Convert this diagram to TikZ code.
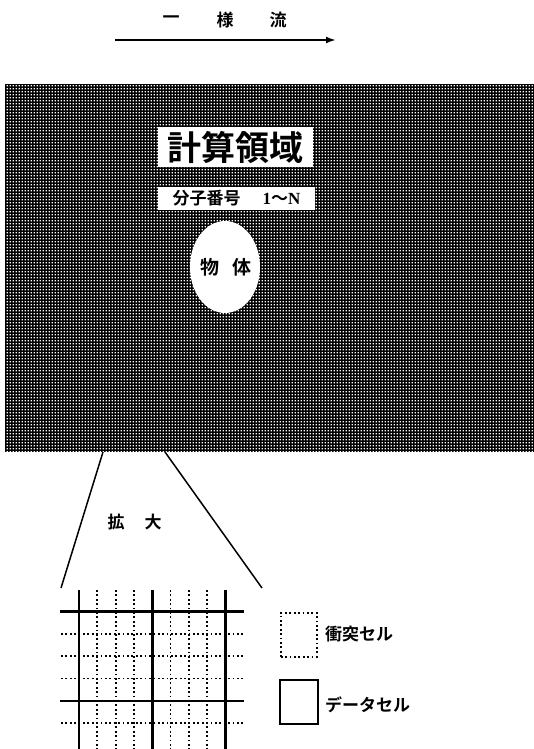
\documentclass[tikz,border=0pt]{standalone}
\usepackage{fontspec}
\newfontfamily\cjk{Noto Sans CJK JP}[BoldFont={Noto Sans CJK JP Bold}]
\usetikzlibrary{patterns,arrows.meta,shapes.geometric}
\pgfdeclarepatternformonly{whitedots}{\pgfpointorigin}{\pgfpoint{3.3pt}{3.3pt}}{\pgfpoint{3.3pt}{3.3pt}}{%
  \pgfpathrectangle{\pgfpoint{0.8pt}{0.8pt}}{\pgfpoint{1.6pt}{1.6pt}}\pgfusepath{fill}}
\tikzset{
  every node/.style={font=\cjk\bfseries, inner sep=0pt},
  domainbox/.style={draw=none, fill=black, postaction={pattern=whitedots, pattern color=white}},
  whitebox/.style={fill=white},
  thickline/.style={line width=2.6pt},
  dotline/.style={line width=1.7pt, dash pattern=on 1.8pt off 2.6pt},
  zoomline/.style={line width=1.5pt},
}
\begin{document}
\begin{tikzpicture}[x=1pt,y=-1pt]
\useasboundingbox (0,0) rectangle (534,749);
% flow label and arrow
\node (c1) at (171,20) {\fontsize{17}{17}\selectfont 一};
\node (c2) at (225,20) {\fontsize{17}{17}\selectfont 様};
\node (c3) at (278,20) {\fontsize{17}{17}\selectfont 流};
\coordinate (fa) at (115,40);
\coordinate (fb) at (336,40);
\draw[line width=2pt, -{Latex[length=10pt,width=7pt]}] (fa) -- (fb);
% domain
\node[domainbox, minimum width=529, minimum height=368, anchor=north west] (dom) at (5,84) {};
\node[whitebox, minimum width=155, minimum height=40] (title) at (235.5,147)
  {\fontsize{34}{34}\selectfont 計算領域};
\node[whitebox, minimum width=157, minimum height=23] (mol) at (236.5,198.5)
  {\fontsize{17}{17}\selectfont 分子番号\hspace{22pt}\fontspec{Liberation Serif}\bfseries 1{\cjk～}N};
\node[ellipse, fill=white, minimum width=70, minimum height=92] (body) at (225,267) {};
\node (b1) at (210,267) {\fontsize{19}{19}\selectfont 物};
\node (b2) at (242,267) {\fontsize{19}{19}\selectfont 体};
% zoom lines
\coordinate (z1) at (103,452);
\coordinate (z2) at (165,452);
\coordinate (z3) at (61,588);
\coordinate (z4) at (262,588);
\draw[zoomline] (z1) -- (z3);
\draw[zoomline] (z2) -- (z4);
\node (k1) at (116,522) {\fontsize{17}{17}\selectfont 拡};
\node (k2) at (153,522) {\fontsize{17}{17}\selectfont 大};
% grid
\foreach \x in {79,152.3,225.6} {
  \draw[thickline] (\x,590) -- (\x,749);
}
\foreach \i in {1,2,3} {
  \draw[dotline] ({79+18.33*\i},590) -- ({79+18.33*\i},749);
  \draw[dotline] ({152.3+18.33*\i},590) -- ({152.3+18.33*\i},749);
}
\foreach \y in {611.7,701} {
  \draw[thickline] (60,\y) -- (244,\y);
}
\foreach \y in {634,656.3,678.6,723.3} {
  \draw[dotline] (61,\y) -- (243,\y);
}
% legend
\node[draw, dotline, minimum width=36, minimum height=44, anchor=north west] (lc) at (280,612) {};
\node[anchor=west] (lct) at (325,634) {\fontsize{17}{17}\selectfont 衝突セル};
\node[draw, line width=2.4pt, minimum width=38, minimum height=44, anchor=north west] (ld) at (279,679) {};
\node[anchor=west] (ldt) at (325,705) {\fontsize{17}{17}\selectfont データセル};
\end{tikzpicture}
\end{document}
